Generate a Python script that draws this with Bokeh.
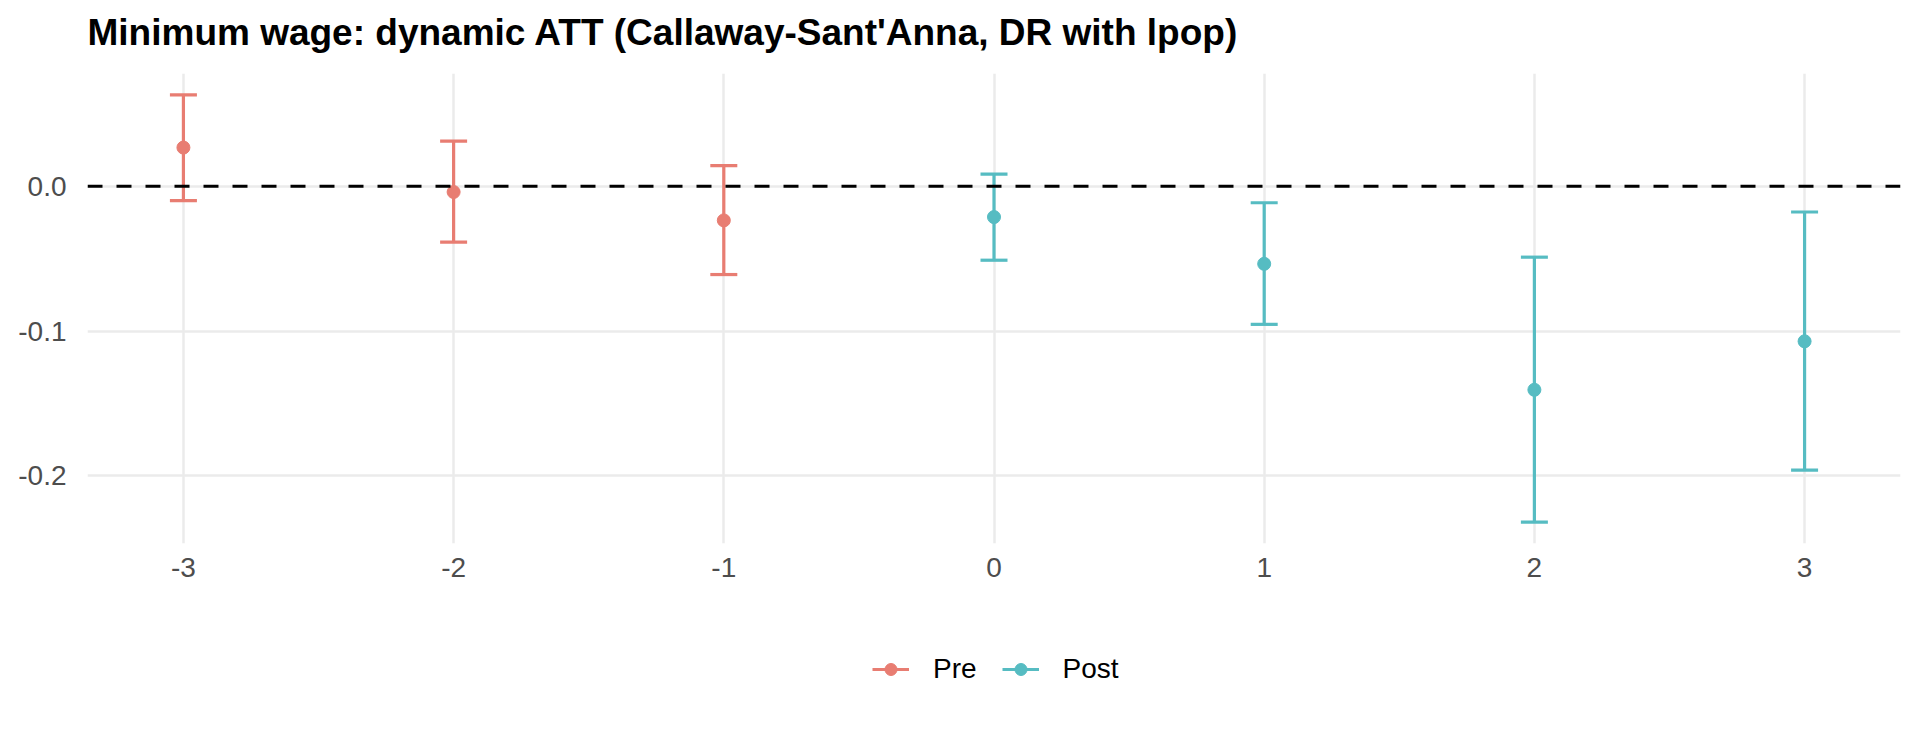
from bokeh.plotting import figure
from bokeh.layouts import column
from bokeh.models import (ColumnDataSource, Whisker, TeeHead, Span, Legend, LegendItem,
                          Range1d, FixedTicker, PrintfTickFormatter)
from bokeh.embed import file_html
from bokeh.resources import INLINE

# ---- data ----
event_time = [-3, -2, -1, 0, 1, 2, 3]
att = [0.0268, -0.0039, -0.0235, -0.0212, -0.0535, -0.1405, -0.1070]
ci_upper = [0.0632, 0.0313, 0.0143, 0.0085, -0.0113, -0.0489, -0.0177]
ci_lower = [-0.0099, -0.0385, -0.0609, -0.0510, -0.0953, -0.2319, -0.1960]
period = ["Pre", "Pre", "Pre", "Post", "Post", "Post", "Post"]
groups = ["Pre", "Post"]
group_colors = {"Pre": "#E87D72", "Post": "#56BCC2"}
x_ticks = [-3, -2, -1, 0, 1, 2, 3]
y_ticks = [-0.2, -0.1, 0.0]

FONT = "Liberation Sans"
TOTAL_W = 1912

# ranges with ggplot-like 5% expansion (error bar caps span +/-0.05)
xmin, xmax = min(event_time) - 0.05, max(event_time) + 0.05
xpad = (xmax - xmin) * 0.05
ymin, ymax = min(ci_lower), max(ci_upper)
ypad = (ymax - ymin) * 0.05

p = figure(frame_width=1813, frame_height=470, output_backend="svg", toolbar_location=None,
           x_range=Range1d(xmin - xpad, xmax + xpad),
           y_range=Range1d(ymin - ypad, ymax + ypad),
           min_border_left=87, min_border_right=12, min_border_top=88, min_border_bottom=60)
p.outline_line_color = None
p.background_fill_color = "white"
p.border_fill_color = "white"

p.title.text = "Minimum wage: dynamic ATT (Callaway-Sant'Anna, DR with lpop)"
p.title.text_font = FONT
p.title.text_font_size = "37px"
p.title.text_font_style = "bold"
p.title.text_color = "black"
p.title.align = "left"
p.title.offset = 0
p.title.standoff = 42

# axes
for ax in (p.xaxis[0], p.yaxis[0]):
    ax.axis_line_color = None
    ax.major_tick_line_color = None
    ax.minor_tick_line_color = None
    ax.major_label_text_font = FONT
    ax.major_label_text_font_size = "28px"
    ax.major_label_text_color = "#4D4D4D"
p.xaxis[0].major_label_standoff = 8
p.yaxis[0].major_label_standoff = 15
p.xaxis[0].ticker = FixedTicker(ticks=x_ticks)
p.xaxis[0].formatter = PrintfTickFormatter(format="%d")
p.yaxis[0].ticker = FixedTicker(ticks=y_ticks)
p.yaxis[0].formatter = PrintfTickFormatter(format="%.1f")

p.xgrid.ticker = FixedTicker(ticks=x_ticks)
p.ygrid.ticker = FixedTicker(ticks=y_ticks)
for g in (p.xgrid[0], p.ygrid[0]):
    g.grid_line_color = "#EBEBEB"
    g.grid_line_width = 2.5

# legend lives in a thin strip below the chart (its ranges keep the data out of view)
leg = figure(width=TOTAL_W, height=100, output_backend="svg", toolbar_location=None,
             x_axis_type=None, y_axis_type=None, x_range=Range1d(100, 101), y_range=Range1d(100, 101),
             min_border_left=0, min_border_right=0, min_border_top=0, min_border_bottom=0)
leg.outline_line_color = None
leg.xgrid.visible = False
leg.ygrid.visible = False

items = []
for grp in groups:
    idx = [i for i, s in enumerate(period) if s == grp]
    src = ColumnDataSource(dict(
        event_time=[event_time[i] for i in idx],
        att=[att[i] for i in idx],
        ci_upper=[ci_upper[i] for i in idx],
        ci_lower=[ci_lower[i] for i in idx],
    ))
    c = group_colors[grp]
    p.segment(x0="event_time", y0="ci_lower", x1="event_time", y1="ci_upper",
              source=src, line_color=c, line_width=3.2)
    w = Whisker(base="event_time", upper="ci_upper", lower="ci_lower", source=src,
                line_alpha=0,
                upper_head=TeeHead(size=27, line_color=c, line_width=3.2),
                lower_head=TeeHead(size=27, line_color=c, line_width=3.2))
    p.add_layout(w)
    p.scatter("event_time", "att", source=src, size=13, color=c)
    # same series in the legend strip, used only for the legend keys
    kseg = leg.segment(x0="event_time", y0="ci_lower", x1="event_time", y1="ci_upper",
                       source=src, line_color=c, line_width=3.2)
    ksc = leg.scatter("event_time", "att", source=src, size=13, color=c)
    items.append(LegendItem(label=grp, renderers=[kseg, ksc]))

zero = Span(location=0, dimension="width", line_color="black", line_width=3,
            line_dash="15 14", level="overlay")
p.add_layout(zero)

legend = Legend(items=items, orientation="horizontal", location=(785, 18),
                label_text_font=FONT, label_text_font_size="28px", label_text_color="black",
                glyph_width=37, glyph_height=30, label_standoff=24, spacing=25,
                padding=0, margin=0, border_line_color=None, background_fill_alpha=0)
leg.add_layout(legend)

layout = column(p, leg, spacing=0, margin=(-15, 0, 0, 0))
open("out.html", "w").write(file_html(layout, INLINE))
